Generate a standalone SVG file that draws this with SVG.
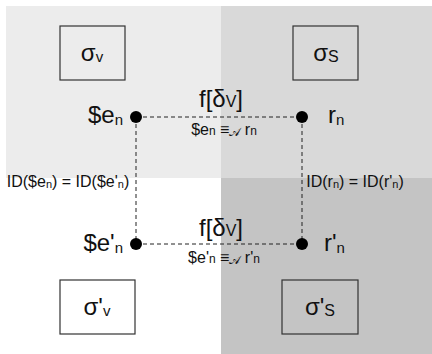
<svg xmlns="http://www.w3.org/2000/svg" width="432" height="354" viewBox="0 0 432 354">
<style>
text{font-family:"Liberation Sans",Arial,sans-serif;fill:#111}
.big{font-size:24px}
.mid{font-size:16px}
.lbl{font-size:16px}
.box{stroke:#333;stroke-width:1.2}
.dash{stroke:#222;stroke-width:1;stroke-dasharray:4,3;fill:none}
.dot{fill:#000}
.scr{font-family:"DejaVu Sans","Noto Sans",sans-serif}
</style>
<g id="background">
<rect x="6" y="6" width="215" height="172" fill="#ececec"/>
<rect x="221" y="6" width="211" height="172" fill="#d9d9d9"/>
<rect x="221" y="178" width="211" height="176" fill="#c4c4c4"/>
</g>
<g id="connectors">
<line class="dash" x1="136" y1="117" x2="302" y2="117"/>
<line class="dash" x1="136" y1="244" x2="302" y2="244"/>
<line class="dash" x1="136" y1="117" x2="136" y2="244"/>
<line class="dash" x1="302" y1="117" x2="302" y2="244"/>
</g>
<g id="sigma_v">
<rect class="box" x="60" y="26" width="65" height="54" fill="none"/>
<text x="92" y="61" text-anchor="middle" class="big">σ<tspan font-size="15" dy="1">v</tspan></text>
</g>
<g id="sigma_s">
<rect class="box" x="293" y="26" width="65" height="54" fill="none"/>
<text x="326" y="61" text-anchor="middle" class="big">σ<tspan font-size="16" dy="1">S</tspan></text>
</g>
<g id="sigma_v_prime">
<rect class="box" x="60" y="280" width="75" height="54" fill="#fff"/>
<text x="97" y="315" text-anchor="middle" class="big">σ'<tspan font-size="15" dy="1">v</tspan></text>
</g>
<g id="sigma_s_prime">
<rect class="box" x="282" y="280" width="76" height="54" fill="none"/>
<text x="320" y="315" text-anchor="middle" class="big">σ'<tspan font-size="16" dy="1">S</tspan></text>
</g>
<g id="node_en">
<circle class="dot" cx="136" cy="117" r="6"/>
<text x="123" y="123" text-anchor="end" class="big">$e<tspan font-size="15" dy="2">n</tspan></text>
</g>
<g id="node_rn">
<circle class="dot" cx="302" cy="117" r="6"/>
<text x="328" y="123" class="big">r<tspan font-size="15" dy="2">n</tspan></text>
</g>
<g id="node_en_prime">
<circle class="dot" cx="136" cy="244" r="6"/>
<text x="123" y="251" text-anchor="end" class="big">$e'<tspan font-size="15" dy="2">n</tspan></text>
</g>
<g id="node_rn_prime">
<circle class="dot" cx="302" cy="244" r="6"/>
<text x="324" y="251" class="big">r'<tspan font-size="15" dy="2">n</tspan></text>
</g>
<g id="labels">
<text x="221" y="107" text-anchor="middle" class="big">f[δ<tspan font-size="16">V</tspan>]</text>
<text x="224" y="135" text-anchor="middle" class="mid">$e<tspan font-size="12">n</tspan> ≡<tspan class="scr" font-size="12" dy="1">𝒜</tspan><tspan dy="-1"> r</tspan><tspan font-size="12">n</tspan></text>
<text x="221" y="236" text-anchor="middle" class="big">f[δ<tspan font-size="16">V</tspan>]</text>
<text x="224" y="263" text-anchor="middle" class="mid">$e'<tspan font-size="12">n</tspan> ≡<tspan class="scr" font-size="12" dy="1">𝒜</tspan><tspan dy="-1"> r'</tspan><tspan font-size="12">n</tspan></text>
<text x="68" y="187" text-anchor="middle" class="lbl">ID($e<tspan font-size="11" dy="1">n</tspan><tspan dy="-1">) = ID($e'</tspan><tspan font-size="11" dy="1">n</tspan><tspan dy="-1">)</tspan></text>
<text x="355" y="187" text-anchor="middle" class="lbl">ID(r<tspan font-size="11" dy="1">n</tspan><tspan dy="-1">) = ID(r'</tspan><tspan font-size="11" dy="1">n</tspan><tspan dy="-1">)</tspan></text>
</g>
</svg>
